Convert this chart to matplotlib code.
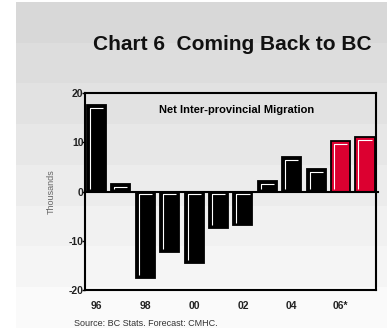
import matplotlib
matplotlib.use("Agg")
import matplotlib.pyplot as plt
import matplotlib.transforms as mtransforms
import numpy as np

years = ["96", "97", "98", "99", "00", "01", "02", "03", "04", "05", "06*", "07*"]
migration = [17.6, 1.6, -17.5, -12.2, -14.6, -7.4, -6.9, 2.2, 7.0, 4.6, 10.3, 11.0]
forecast = [False] * 10 + [True, True]
tick_labels = ["96", "98", "00", "02", "04", "06*"]
y_ticks = [20, 10, 0, -10, -20]

plt.rcParams["font.family"] = ["Liberation Sans", "DejaVu Sans"]

fig = plt.figure(figsize=(3.87, 3.33), dpi=100)
fig.patch.set_facecolor("white")

# banded grey background, darker at the top
bg = fig.add_axes([16 / 387, 5 / 333, 371 / 387, 326 / 333], zorder=0)
bands = np.linspace(0.845, 0.98, 8).reshape(-1, 1)
bg.imshow(np.repeat(bands, 3, axis=1), cmap="gray", vmin=0, vmax=1,
          aspect="auto", interpolation="nearest")
bg.axis("off")

ax = fig.add_axes([85 / 387, 43 / 333, 291 / 387, 197 / 333], zorder=1)
ax.patch.set_alpha(0)

x = np.arange(len(migration))
width = 0.78
colors = ["#dc0030" if f else "black" for f in forecast]
ax.bar(x, migration, width=width, color=colors, edgecolor="black", linewidth=1.3, zorder=2)

# white highlight along the top and left inside each bar
dx = 0.12
ins = 0.6
for xi, v in zip(x, migration):
    top = max(v, 0) - ins
    bottom = min(v, 0) + ins
    left = xi - width / 2 + dx
    right = xi + width / 2 - dx
    ax.plot([left, left, right], [bottom, top, top], color="white", linewidth=0.8,
            solid_capstyle="butt", zorder=3)

ax.axhline(0, color="black", linewidth=1.5, zorder=4, xmin=0, xmax=1.008, clip_on=False)

ax.set_xlim(-0.47, len(migration) - 1 + 0.45)
ax.set_ylim(-20, 20)
ax.set_xticks(x[::2])
ax.set_xticklabels(tick_labels, fontsize=7.5, fontweight="bold", color="#222222")
shift = mtransforms.ScaledTranslation(3 / 100, 0, fig.dpi_scale_trans)
for lab in ax.get_xticklabels():
    lab.set_transform(lab.get_transform() + shift)
ax.tick_params(axis="x", length=0, pad=8)
ax.set_yticks(y_ticks)
ax.set_yticklabels([str(t) for t in y_ticks], fontsize=7.5, fontweight="bold", color="#222222")
ax.tick_params(axis="y", length=2.5, width=1, pad=-1.5, direction="out")
for s in ax.spines.values():
    s.set_linewidth(1.5)
    s.set_color("black")

ax.set_ylabel("Thousands", fontsize=6.5, color="#666666", labelpad=9)
ax.text(0.52, 0.915, "Net Inter-provincial Migration", transform=ax.transAxes,
        ha="center", va="center", fontsize=8, fontweight="bold")

fig.text(232 / 387, 1 - 44 / 333, "Chart 6  Coming Back to BC", ha="center", va="center",
         fontsize=15, fontweight="bold", color="#111111")
fig.text(74 / 387, 1 - 323 / 333, "Source: BC Stats. Forecast: CMHC.", ha="left", va="center",
         fontsize=6.5, color="#333333")

fig.savefig("out.png", dpi=100)
